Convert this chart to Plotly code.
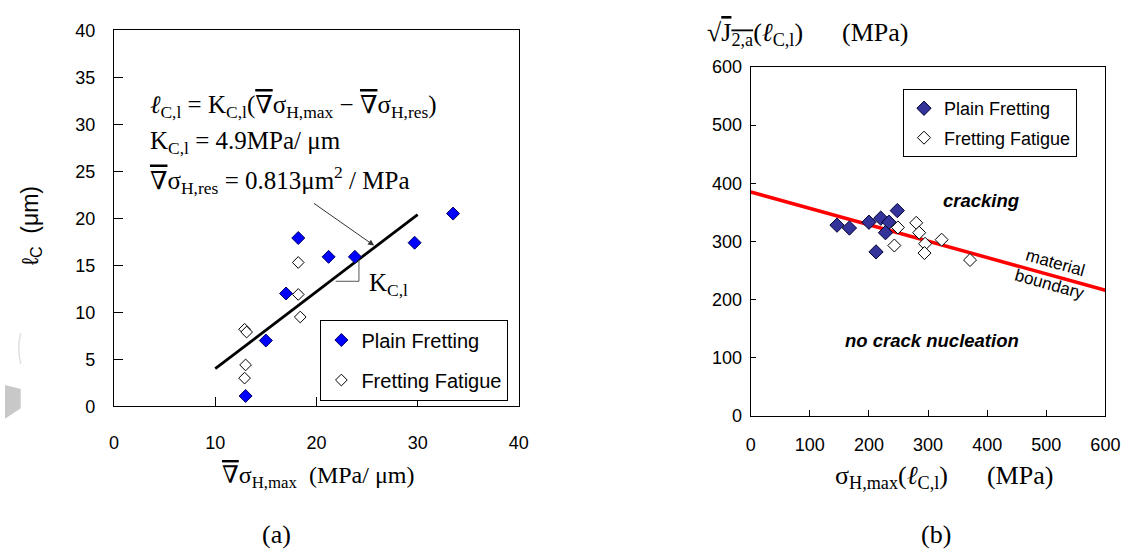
import plotly.graph_objects as go

W, H = 1142, 560

# ---------------- data: panel (a) ----------------
pf_grad = [13.0, 15.0, 17.0, 18.2, 21.2, 23.8, 29.7, 33.5]
pf_lc = [1.1, 7.0, 12.0, 17.9, 15.9, 15.9, 17.4, 20.5]
ff_grad = [12.9, 13.1, 13.0, 12.9, 18.2, 18.2, 18.4]
ff_lc = [8.2, 7.9, 4.4, 3.0, 15.3, 11.9, 9.5]
fit_grad = [10.0, 30.0]
fit_lc = [4.0, 20.4]
tri_grad = [21.9, 24.2, 24.2]
tri_lc = [13.3, 13.3, 15.6]

# ---------------- data: panel (b) ----------------
pf_sig = [146, 167, 200, 220, 234, 228, 248, 212]
pf_j2 = [328, 323, 333, 340, 333, 315, 353, 282]
ff_sig = [249, 243, 280, 285, 295, 294, 323, 371]
ff_j2 = [324, 293, 332, 315, 296, 280, 303, 268]
bound_sig = [0, 600]
bound_j2 = [385, 216]

xa_ticks = [0, 10, 20, 30, 40]
ya_ticks = [0, 5, 10, 15, 20, 25, 30, 35, 40]
xb_ticks = [0, 100, 200, 300, 400, 500, 600]
yb_ticks = [0, 100, 200, 300, 400, 500, 600]

SERIF = "Liberation Serif, DejaVu Serif, Times New Roman, serif"
SANS = "Liberation Sans, Arial, sans-serif"


def px(x):
    return x / W


def py(y):
    return 1 - y / H


fig = go.Figure()

# panel (a)
fig.add_trace(go.Scatter(x=fit_grad, y=fit_lc, mode="lines", line=dict(color="black", width=2.8),
                         showlegend=False, xaxis="x", yaxis="y"))
fig.add_trace(go.Scatter(x=tri_grad, y=tri_lc, mode="lines", line=dict(color="#555555", width=1),
                         showlegend=False, xaxis="x", yaxis="y"))
fig.add_trace(go.Scatter(x=pf_grad, y=pf_lc, mode="markers", name="Plain Fretting",
                         marker=dict(symbol="diamond", size=10, color="#0000FF",
                                     line=dict(color="#000066", width=1)),
                         legendgroup="a1", legend="legend", xaxis="x", yaxis="y"))
fig.add_trace(go.Scatter(x=ff_grad, y=ff_lc, mode="markers", name="Fretting Fatigue",
                         marker=dict(symbol="diamond", size=9, color="white",
                                     line=dict(color="black", width=1)),
                         legendgroup="a2", legend="legend", xaxis="x", yaxis="y"))

# panel (b)
fig.add_trace(go.Scatter(x=bound_sig, y=bound_j2, mode="lines", line=dict(color="#FF0000", width=3.5),
                         showlegend=False, xaxis="x2", yaxis="y2"))
fig.add_trace(go.Scatter(x=pf_sig, y=pf_j2, mode="markers", name="Plain Fretting",
                         marker=dict(symbol="diamond", size=11, color="#333399",
                                     line=dict(color="#000033", width=1)),
                         legendgroup="b1", legend="legend2", xaxis="x2", yaxis="y2"))
fig.add_trace(go.Scatter(x=ff_sig, y=ff_j2, mode="markers", name="Fretting Fatigue",
                         marker=dict(symbol="diamond", size=10, color="white",
                                     line=dict(color="black", width=1)),
                         legendgroup="b2", legend="legend2", xaxis="x2", yaxis="y2"))

axis_common = dict(showline=True, linecolor="black", linewidth=1.3, mirror=True, ticks="inside",
                   tickcolor="black", showgrid=False, zeroline=False,
                   tickfont=dict(family=SANS, size=18, color="black"))

fig.update_layout(
    width=W, height=H, margin=dict(l=0, r=0, t=0, b=0),
    paper_bgcolor="white", plot_bgcolor="white",
    xaxis=dict(domain=[px(111), px(523)], range=[0, 40], tickvals=xa_ticks, ticklen=9,
               ticklabelstandoff=20, anchor="y", **axis_common),
    yaxis=dict(domain=[py(411), py(21)], range=[0, 40], tickvals=ya_ticks, ticklen=9,
               ticklabelstandoff=14, anchor="x", **axis_common),
    xaxis2=dict(domain=[px(759), px(1120)], range=[0, 600], tickvals=xb_ticks, ticklen=6,
                ticklabelstandoff=12, anchor="y2", **axis_common),
    yaxis2=dict(domain=[py(421), py(59)], range=[0, 600], tickvals=yb_ticks, ticklen=5,
                ticklabelstandoff=4, anchor="x2", **axis_common),
    legend=dict(x=px(321), y=py(321), xanchor="left", yanchor="top",
                bordercolor="black", borderwidth=1, bgcolor="white",
                font=dict(family=SANS, size=20, color="black"), tracegroupgap=11,
                itemwidth=30),
    legend2=dict(x=px(914), y=py(82), xanchor="left", yanchor="top",
                 bordercolor="black", borderwidth=1, bgcolor="white",
                 font=dict(family=SANS, size=18, color="black"), tracegroupgap=3,
                 itemwidth=30),
)

ann = []
eq_font = dict(family=SERIF, size=25, color="black")
nabla = "<span style='text-decoration:overline'>\u2207</span>"
ann.append(dict(xref="paper", yref="paper", x=px(146), y=py(100), xanchor="left", yanchor="middle",
                text="<i>ℓ</i><sub>C,l</sub> = K<sub>C,l</sub>(" + nabla + "σ<sub>H,max</sub> − " + nabla + "σ<sub>H,res</sub>)",
                showarrow=False, font=eq_font))
ann.append(dict(xref="paper", yref="paper", x=px(146), y=py(137), xanchor="left", yanchor="middle",
                text="K<sub>C,l</sub> = 4.9MPa/ μm", showarrow=False, font=eq_font))
ann.append(dict(xref="paper", yref="paper", x=px(146), y=py(176), xanchor="left", yanchor="middle",
                text=nabla + "σ<sub>H,res</sub> = 0.813μm<sup>2</sup> / MPa", showarrow=False, font=eq_font))
# arrow pointing to the fit line
ann.append(dict(xref="x", yref="y", axref="x", ayref="y", x=25.7, y=17.1, ax=19.6, ay=21.7,
                text="", showarrow=True, arrowhead=2, arrowsize=1.2, arrowwidth=1, arrowcolor="#333333"))
ann.append(dict(xref="x", yref="y", x=25.0, y=13.0, xanchor="left", yanchor="middle",
                text="K<sub>C,l</sub>", showarrow=False, font=eq_font))
# axis titles (a)
ann.append(dict(xref="paper", yref="paper", x=px(319), y=py(484), xanchor="center", yanchor="middle",
                text=nabla + "σ<sub>H,max</sub>  (MPa/ μm)", showarrow=False,
                font=dict(family=SERIF, size=24, color="black")))
ann.append(dict(xref="paper", yref="paper", x=px(26), y=py(224), xanchor="center", yanchor="middle",
                text="ℓ<sub>C</sub>  (μm)", textangle=-90, showarrow=False,
                font=dict(family=SANS, size=23, color="black")))
ann.append(dict(xref="paper", yref="paper", x=px(276), y=py(544), xanchor="center", yanchor="middle",
                text="(a)", showarrow=False, font=dict(family=SERIF, size=26, color="black")))
# panel (b) texts
ann.append(dict(xref="paper", yref="paper", x=px(712), y=py(25), xanchor="left", yanchor="middle",
                text="√<span style='text-decoration:overline'>J<sub>2,a</sub></span>(<i>ℓ</i><sub>C,l</sub>)      (MPa)",
                showarrow=False, font=dict(family=SERIF, size=26, color="black")))
ann.append(dict(xref="paper", yref="paper", x=px(956), y=py(484), xanchor="center", yanchor="middle",
                text="σ<sub>H,max</sub>(<i>ℓ</i><sub>C,l</sub>)      (MPa)", showarrow=False,
                font=dict(family=SERIF, size=26, color="black")))
ann.append(dict(xref="paper", yref="paper", x=px(948), y=py(544), xanchor="center", yanchor="middle",
                text="(b)", showarrow=False, font=dict(family=SERIF, size=26, color="black")))
ann.append(dict(xref="x2", yref="y2", x=390, y=371, text="<b><i>cracking</i></b>", showarrow=False,
                font=dict(family=SANS, size=18.5, color="black")))
ann.append(dict(xref="x2", yref="y2", x=306, y=129, text="<b><i>no crack nucleation</i></b>", showarrow=False,
                font=dict(family=SANS, size=18.5, color="black")))
ann.append(dict(xref="x2", yref="y2", x=510, y=245, text="material<br>boundary", showarrow=False,
                textangle=15.7, font=dict(family=SANS, size=17, color="black")))
fig.update_layout(annotations=ann)

# faint gray artefacts at the left edge
fig.add_shape(type="path", xref="paper", yref="paper",
              path=f"M {px(0)} {py(389)} L {px(16)} {py(393)} L {px(16)} {py(413)} L {px(0)} {py(424)} Z",
              fillcolor="#C8C8C8", line=dict(width=0))
fig.add_shape(type="path", xref="paper", yref="paper",
              path=f"M {px(16)} {py(335)} Q {px(12)} {py(351)} {px(16)} {py(367)}",
              line=dict(color="#E0E0E0", width=1.5))

fig.write_html("out.html")
